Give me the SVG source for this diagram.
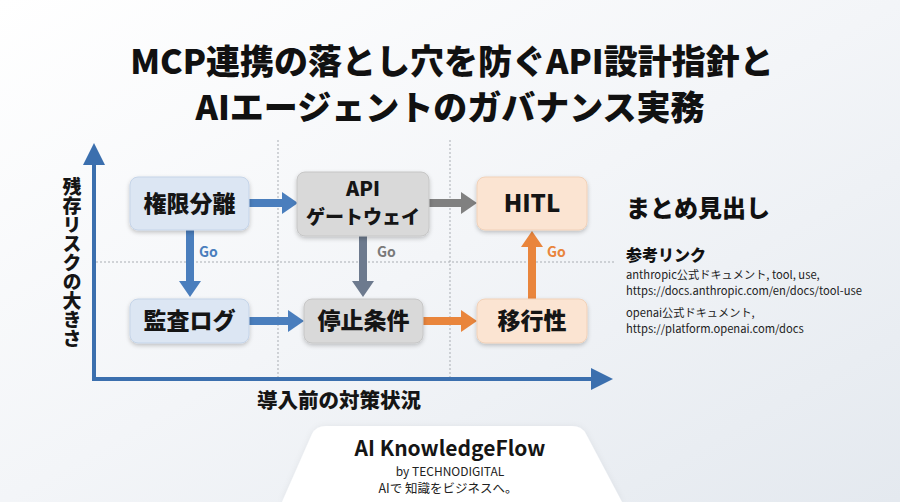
<svg xmlns="http://www.w3.org/2000/svg" width="900" height="502" viewBox="0 0 900 502">
  <defs>
    <linearGradient id="bg" x1="0" y1="0" x2="1" y2="1">
      <stop offset="0" stop-color="#ffffff"/>
      <stop offset="0.5" stop-color="#f3f5f8"/>
      <stop offset="1" stop-color="#e4e9ef"/>
    </linearGradient>
    <filter id="sh" x="-20%" y="-20%" width="140%" height="150%">
      <feDropShadow dx="0" dy="2" stdDeviation="2" flood-color="#000" flood-opacity="0.22"/>
    </filter>
    <filter id="fsh" x="-10%" y="-30%" width="120%" height="160%">
      <feDropShadow dx="0" dy="0" stdDeviation="3" flood-color="#000" flood-opacity="0.06"/>
    </filter>
    <marker id="hBlue" markerUnits="userSpaceOnUse" markerWidth="18" markerHeight="24" refX="0" refY="12" orient="auto">
      <path d="M0,1 L16,12 L0,23 z" fill="#4a7ebd"/>
    </marker>
    <marker id="hSlate" markerUnits="userSpaceOnUse" markerWidth="18" markerHeight="24" refX="0" refY="12" orient="auto">
      <path d="M0,1 L16,12 L0,23 z" fill="#6d7a8e"/>
    </marker>
    <marker id="hGray" markerUnits="userSpaceOnUse" markerWidth="18" markerHeight="24" refX="0" refY="12" orient="auto">
      <path d="M0,1 L16,12 L0,23 z" fill="#808080"/>
    </marker>
    <marker id="hOrange" markerUnits="userSpaceOnUse" markerWidth="18" markerHeight="24" refX="0" refY="12" orient="auto">
      <path d="M0,1 L16,12 L0,23 z" fill="#e9853c"/>
    </marker>
    <marker id="hAxis" markerUnits="userSpaceOnUse" markerWidth="26" markerHeight="24" refX="0" refY="12" orient="auto">
      <path d="M0,1 L22,12 L0,23 z" fill="#3b6fae"/>
    </marker>
  </defs>
  <style>
    .jp { font-family: "Noto Sans CJK JP", "Noto Sans", sans-serif; }
    .title { font-family: "Noto Sans CJK JP", sans-serif; font-weight: 900; font-size: 34px; fill: #111; }
    .lbl { font-family: "Noto Sans CJK JP", sans-serif; font-weight: 900; font-size: 23px; fill: #151515; text-anchor: middle; }
    .axl { font-family: "Noto Sans CJK JP", sans-serif; font-weight: 900; font-size: 19px; fill: #151515; }
    .go { font-family: "Noto Sans CJK JP", sans-serif; font-weight: 700; font-size: 14px; }
    .ref { font-family: "Noto Sans CJK JP", sans-serif; font-weight: 400; font-size: 11.2px; fill: #222; }
    .grid { stroke: #a9adb3; stroke-width: 1; stroke-dasharray: 2 2; fill: none; }
    .nBlue { fill: #dce6f3; stroke: #c5d4e8; stroke-width: 1; }
    .nGray { fill: #d9d9d9; stroke: #c6c6c6; stroke-width: 1; }
    .nPeach { fill: #fbe4d2; stroke: #f1d1b8; stroke-width: 1; }
  </style>

  <rect x="0" y="0" width="900" height="502" fill="url(#bg)"/>

  <g id="title">
    <text class="title" x="452" y="74" text-anchor="middle">MCP連携の落とし穴を防ぐAPI設計指針と</text>
    <text class="title" x="450" y="120" text-anchor="middle">AIエージェントのガバナンス実務</text>
  </g>

  <g id="grid">
    <line class="grid" x1="278" y1="140" x2="278" y2="377"/>
    <line class="grid" x1="450" y1="140" x2="450" y2="377"/>
    <line class="grid" x1="96" y1="262" x2="615" y2="262"/>
  </g>

  <g id="axes">
    <line x1="94" y1="379" x2="94" y2="165" stroke="#3b6fae" stroke-width="4" marker-end="url(#hAxis)"/>
    <line x1="92" y1="379" x2="591" y2="379" stroke="#3b6fae" stroke-width="4" marker-end="url(#hAxis)"/>
    <text class="axl" x="72" y="177" style="writing-mode: vertical-rl; text-orientation: upright;">残存リスクの大きさ</text>
    <text class="axl" x="339" y="408" text-anchor="middle" style="font-size:20.5px">導入前の対策状況</text>
  </g>

  <g id="connectors">
    <line x1="249" y1="203" x2="282" y2="203" stroke="#4a7ebd" stroke-width="8" marker-end="url(#hBlue)"/>
    <line x1="190" y1="230" x2="190" y2="281" stroke="#4a7ebd" stroke-width="8" marker-end="url(#hBlue)"/>
    <line x1="249" y1="321" x2="288" y2="321" stroke="#4a7ebd" stroke-width="8" marker-end="url(#hBlue)"/>
    <line x1="363" y1="236" x2="363" y2="281" stroke="#6d7a8e" stroke-width="8" marker-end="url(#hSlate)"/>
    <line x1="429" y1="203" x2="461" y2="203" stroke="#808080" stroke-width="8" marker-end="url(#hGray)"/>
    <line x1="423" y1="321" x2="461" y2="321" stroke="#e9853c" stroke-width="8" marker-end="url(#hOrange)"/>
    <line x1="532" y1="299" x2="532" y2="247" stroke="#e9853c" stroke-width="8" marker-end="url(#hOrange)"/>
    <text class="go" x="199" y="257" fill="#4a7ebd">Go</text>
    <text class="go" x="377" y="257" fill="#7a7a7a">Go</text>
    <text class="go" x="547" y="257" fill="#e9853c">Go</text>
  </g>

  <g id="node-kengen">
    <rect class="nBlue" x="130" y="177" width="119" height="53" rx="8" filter="url(#sh)"/>
    <text class="lbl" x="189.5" y="212">権限分離</text>
  </g>
  <g id="node-kansa">
    <rect class="nBlue" x="130" y="299" width="119" height="44" rx="8" filter="url(#sh)"/>
    <text class="lbl" x="189.5" y="329">監査ログ</text>
  </g>
  <g id="node-api">
    <rect class="nGray" x="297" y="172" width="132" height="64" rx="8" filter="url(#sh)"/>
    <text class="lbl" x="363" y="196" style="font-size:20px">API</text>
    <text class="lbl" x="363" y="224" style="font-size:19px">ゲートウェイ</text>
  </g>
  <g id="node-teishi">
    <rect class="nGray" x="304" y="299" width="119" height="44" rx="8" filter="url(#sh)"/>
    <text class="lbl" x="363.5" y="329">停止条件</text>
  </g>
  <g id="node-hitl">
    <rect class="nPeach" x="477" y="177" width="110" height="53" rx="8" filter="url(#sh)"/>
    <text class="lbl" x="532" y="212" style="font-size:24px">HITL</text>
  </g>
  <g id="node-ikou">
    <rect class="nPeach" x="477" y="299" width="110" height="44" rx="8" filter="url(#sh)"/>
    <text class="lbl" x="532" y="329">移行性</text>
  </g>

  <g id="summary">
    <text class="jp" x="626" y="217" font-size="24" font-weight="900" fill="#111">まとめ見出し</text>
    <text class="jp" x="626" y="261" font-size="16" font-weight="900" fill="#111">参考リンク</text>
    <text class="ref" x="626" y="279">anthropic公式ドキュメント, tool, use,</text>
    <text class="ref" x="626" y="295">https://docs.anthropic.com/en/docs/tool-use</text>
    <text class="ref" x="626" y="317">openai公式ドキュメント,</text>
    <text class="ref" x="626" y="333">https://platform.openai.com/docs</text>
  </g>

  <g id="footer">
    <path d="M282,502 L312,434 Q316,426 326,426 L572,426 Q582,426 586,434 L622,502 Z" fill="#ffffff" filter="url(#fsh)"/>
    <text class="jp" x="450" y="456" font-size="21" font-weight="700" fill="#151515" text-anchor="middle">AI KnowledgeFlow</text>
    <text class="jp" x="450" y="476" font-size="12" font-weight="400" fill="#222" text-anchor="middle">by TECHNODIGITAL</text>
    <text class="jp" x="448" y="493" font-size="12.5" font-weight="400" fill="#222" text-anchor="middle">AIで 知識をビジネスへ。</text>
  </g>
</svg>
